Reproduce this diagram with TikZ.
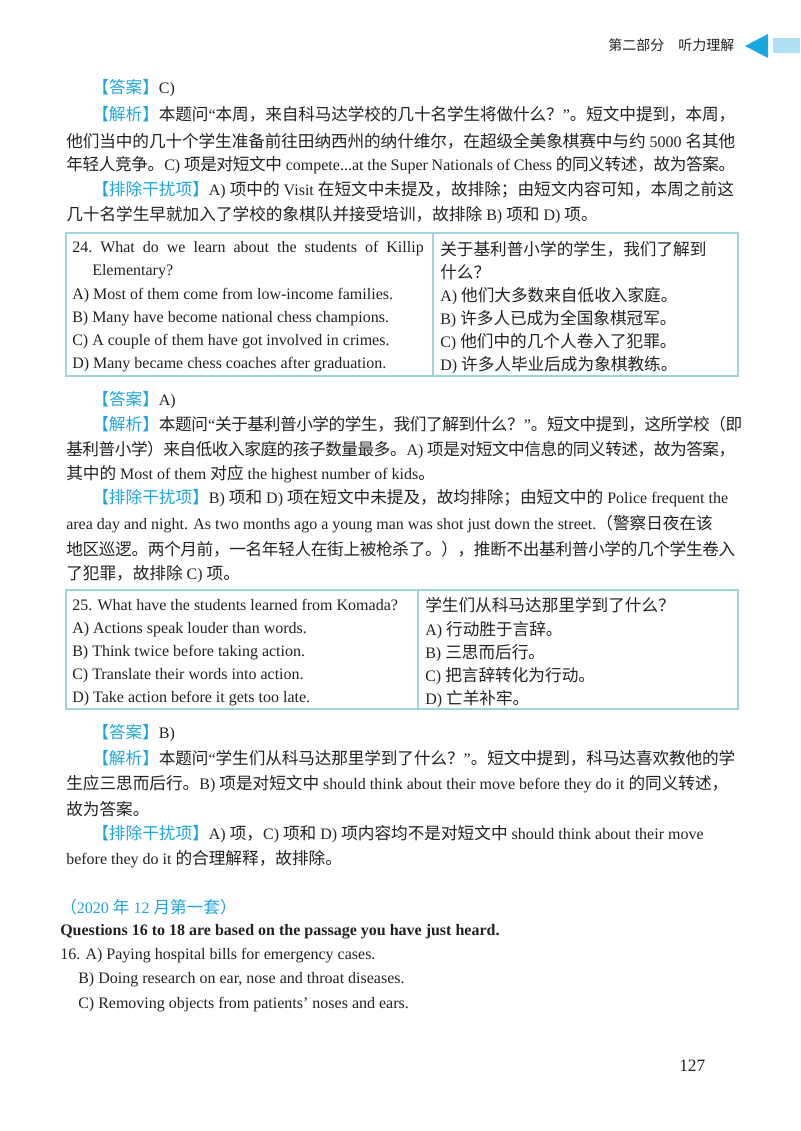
\documentclass[tikz,border=0pt]{standalone}
\usepackage{fontspec}
\setmainfont{Liberation Serif}
\newfontfamily\cjkfont[Scale=1.04]{Noto Sans CJK SC}
\newfontfamily\labfont{Noto Sans CJK SC}
\definecolor{labc}{HTML}{1FA5DA}
\definecolor{tabc}{HTML}{9FD4DC}
\definecolor{headc}{HTML}{18A8E0}
\definecolor{barc}{HTML}{AEDFF5}
\definecolor{txtc}{HTML}{222222}
\newXeTeXintercharclass\myCJKcls
\count255="4E00
\loop\XeTeXcharclass\count255=\myCJKcls\ifnum\count255<"9FFF\advance\count255 1\repeat
\count255="3000
\loop\XeTeXcharclass\count255=\myCJKcls\ifnum\count255<"303F\advance\count255 1\repeat
\count255="FF00
\loop\XeTeXcharclass\count255=\myCJKcls\ifnum\count255<"FFEF\advance\count255 1\repeat
\XeTeXinterchartoks 0 \myCJKcls={\cjkfont}
\XeTeXinterchartoks 4095 \myCJKcls={\cjkfont}
\XeTeXinterchartoks \myCJKcls 0={\rmfamily}
\XeTeXinterchartoks \myCJKcls 4095={\rmfamily}
\XeTeXinterchartoks \myCJKcls \myCJKcls={\hskip0pt plus 1.5pt minus 1.5pt}
\XeTeXinterchartokenstate=1
\newcommand\lab[1]{{\XeTeXinterchartokenstate=0 \labfont\fontsize{12.5}{15}\selectfont\color{labc}【#1】}}
\tikzset{
  txt/.style={anchor=west,inner sep=0pt,font=\fontsize{12}{14}\selectfont,text=txtc},
  jl/.style={txt,text width=#1,align=justify},
  tab/.style={draw=tabc,line width=1.1pt},
}
\newcommand\J{\parfillskip=0pt\relax}
\begin{document}
\begin{tikzpicture}[x=0.75pt,y=-0.75pt]
\useasboundingbox (0,0) rectangle (800,1131);
% header
\node[txt,font=\fontsize{10.5}{12}\selectfont] (hd) at (608,45) {\XeTeXinterchartokenstate=0\labfont 第二部分\quad 听力理解};
\fill[headc] (745,46) -- (768,34) -- (768,58) -- cycle;
\fill[barc] (773,38) rectangle (800,53);
% block 1
\node[txt] (a1) at (92,88) {\lab{答案}C)};
\node[jl=643pt*0.75] (a2) at (92,114) {\J\lab{解析}本题问“本周，来自科马达学校的几十名学生将做什么？”。短文中提到，本周，};
\node[jl=669pt*0.75] (a3) at (66,141) {\J 他们当中的几十个学生准备前往田纳西州的纳什维尔，在超级全美象棋赛中与约 5000 名其他};
\node[jl=669pt*0.75] (a4) at (66,165) {\J 年轻人竞争。C) 项是对短文中 compete...at the Super Nationals of Chess 的同义转述，故为答案。};
\node[jl=643pt*0.75] (a5) at (92,190) {\J\lab{排除干扰项}A) 项中的 Visit 在短文中未提及，故排除；由短文内容可知，本周之前这};
\node[txt] (a6) at (66,215) {几十名学生早就加入了学校的象棋队并接受培训，故排除 B) 项和 D) 项。};
% table 1
\draw[tab] (66,233) rectangle (738,376);
\draw[tab] (433,233) -- (433,376);
\node[txt] (t1a) at (72,249) {24.\ \ What\ \ do\ \ we\ \ learn\ \ about\ \ the\ \ students\ \ of\ \ Killip};
\node[txt] (t1b) at (92,272) {Elementary?};
\node[txt] (t1c) at (72,296) {A) Most of them come from low-income families.};
\node[txt] (t1d) at (72,319) {B) Many have become national chess champions.};
\node[txt] (t1e) at (72,342) {C) A couple of them have got involved in crimes.};
\node[txt] (t1f) at (72,365) {D) Many became chess coaches after graduation.};
\node[jl=290pt*0.75] (t1g) at (440,249) {\J 关于基利普小学的学生，我们了解到};
\node[txt] (t1h) at (440,272) {什么？};
\node[txt] (t1i) at (440,296) {A) 他们大多数来自低收入家庭。};
\node[txt] (t1j) at (440,319) {B) 许多人已成为全国象棋冠军。};
\node[txt] (t1k) at (440,342) {C) 他们中的几个人卷入了犯罪。};
\node[txt] (t1l) at (440,365) {D) 许多人毕业后成为象棋教练。};
% block 2
\node[txt] (b1) at (92,400) {\lab{答案}A)};
\node[jl=650pt*0.75] (b2) at (92,424) {\J\lab{解析}本题问“关于基利普小学的学生，我们了解到什么？”。短文中提到，这所学校（即};
\node[jl=669pt*0.75] (b3) at (66,450) {\J 基利普小学）来自低收入家庭的孩子数量最多。A) 项是对短文中信息的同义转述，故为答案，};
\node[txt] (b4) at (66,474) {其中的 Most of them 对应 the highest number of kids。};
\node[jl=643pt*0.75] (b5) at (92,498) {\J\lab{排除干扰项}B) 项和 D) 项在短文中未提及，故均排除；由短文中的 Police frequent the};
\node[jl=669pt*0.75] (b6) at (66,524) {\J area day and night. As two months ago a young man was shot just down the street.（警察日夜在该};
\node[jl=669pt*0.75] (b7) at (66,549) {\J 地区巡逻。两个月前，一名年轻人在街上被枪杀了。），推断不出基利普小学的几个学生卷入};
\node[txt] (b8) at (66,574) {了犯罪，故排除 C) 项。};
% table 2
\draw[tab] (66,590) rectangle (738,709);
\draw[tab] (418,590) -- (418,709);
\node[txt] (t2a) at (72,605) {25. What have the students learned from Komada?};
\node[txt] (t2b) at (72,630) {A) Actions speak louder than words.};
\node[txt] (t2c) at (72,653) {B) Think twice before taking action.};
\node[txt] (t2d) at (72,676) {C) Translate their words into action.};
\node[txt] (t2e) at (72,699) {D) Take action before it gets too late.};
\node[txt] (t2f) at (425,605) {学生们从科马达那里学到了什么？};
\node[txt] (t2g) at (425,630) {A) 行动胜于言辞。};
\node[txt] (t2h) at (425,653) {B) 三思而后行。};
\node[txt] (t2i) at (425,676) {C) 把言辞转化为行动。};
\node[txt] (t2j) at (425,699) {D) 亡羊补牢。};
% block 3
\node[txt] (c1) at (92,733) {\lab{答案}B)};
\node[jl=643pt*0.75] (c2) at (92,758) {\J\lab{解析}本题问“学生们从科马达那里学到了什么？”。短文中提到，科马达喜欢教他的学};
\node[jl=669pt*0.75] (c3) at (66,784) {\J 生应三思而后行。B) 项是对短文中 should think about their move before they do it 的同义转述，};
\node[txt] (c4) at (66,809) {故为答案。};
\node[jl=643pt*0.75] (c5) at (92,834) {\J\lab{排除干扰项}A) 项，C) 项和 D) 项内容均不是对短文中 should think about their move};
\node[txt] (c6) at (66,859) {before they do it 的合理解释，故排除。};
% block 4
\node[txt,text=labc] (d1) at (60,907) {（2020 年 12 月第一套）};
\node[txt,font=\fontsize{12}{14}\selectfont\bfseries] (d2) at (60,932) {Questions 16 to 18 are based on the passage you have just heard.};
\node[txt] (d3) at (60,956) {16. A) Paying hospital bills for emergency cases.};
\node[txt] (d4) at (78,980) {B) Doing research on ear, nose and throat diseases.};
\node[txt] (d5) at (78,1005) {C) Removing objects from patients’ noses and ears.};
\node[txt,font=\fontsize{13}{15}\selectfont] (pg) at (679,1066) {127};
\end{tikzpicture}
\end{document}
